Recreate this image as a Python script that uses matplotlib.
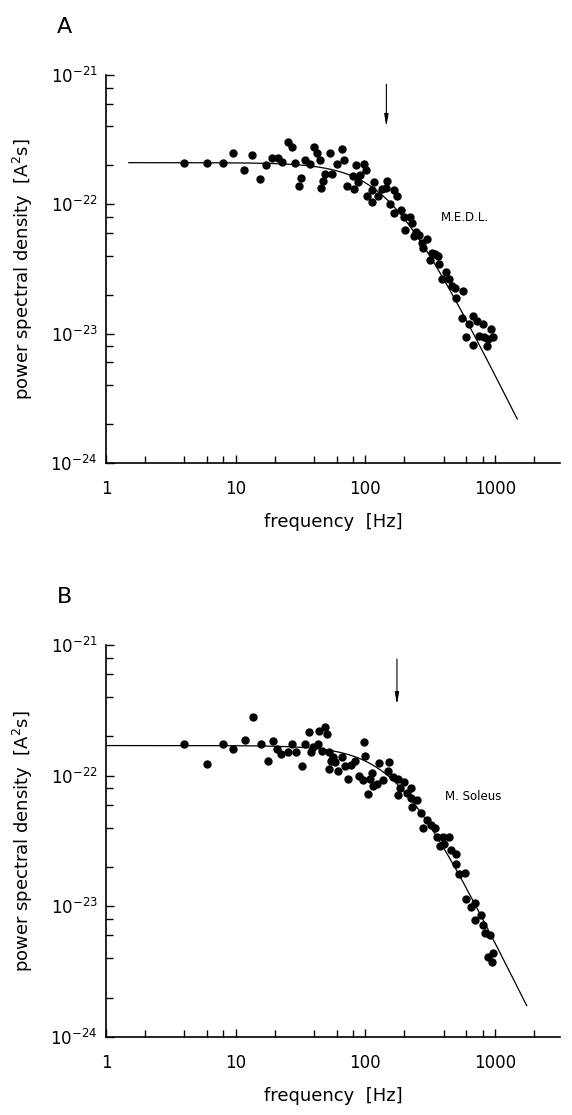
import numpy as np
import matplotlib
matplotlib.use("Agg")
import matplotlib.pyplot as plt
from matplotlib.ticker import FixedLocator, FixedFormatter, NullFormatter

plt.rcParams['font.family'] = ['DejaVu Sans']
plt.rcParams['mathtext.fontset'] = 'dejavusans'

# ---------------- data (psd in units of 1e-22 A^2 s) ----------------
freq_A = [4, 6, 8, 9.6, 11.6, 13.4, 15.4, 17.2, 19.1, 21.3, 22.9, 25.3, 27.4, 28.8,
          30.5, 31.8, 34.5, 37.3, 40, 42.7, 44.3, 45.1, 47.2, 48.6, 53.2, 55.7, 60.9,
          65.8, 68.6, 72.7, 80, 82.3, 84.2, 87.3, 91, 97, 101, 103, 113, 117, 112, 126,
          134, 143, 146, 156, 167, 174, 166, 189, 197, 203, 222, 229, 235, 247, 259,
          273, 278, 298, 316, 328, 341, 360, 367, 389, 418, 438, 465, 487, 501, 564,
          554, 627, 681, 731, 594, 673, 753, 804, 823, 863, 888, 923, 957]
psd_A = [2.1, 2.1, 2.1, 2.5, 1.84, 2.42, 1.58, 2.02, 2.29, 2.29, 2.11, 3.05, 2.79, 2.1,
         1.38, 1.61, 2.21, 2.04, 2.77, 2.51, 2.2, 1.33, 1.51, 1.71, 2.49, 1.72, 2.04,
         2.66, 2.21, 1.39, 1.66, 1.31, 2.02, 1.49, 1.68, 2.06, 1.84, 1.15, 1.05, 1.48,
         1.29, 1.15, 1.32, 1.34, 1.52, 1.0, 1.30, 1.16, 0.86, 0.90, 0.80, 0.63, 0.80,
         0.72, 0.57, 0.61, 0.58, 0.50, 0.46, 0.54, 0.37, 0.42, 0.41, 0.40, 0.345,
         0.267, 0.298, 0.267, 0.233, 0.224, 0.19, 0.213, 0.131, 0.118, 0.138, 0.125,
         0.095, 0.082, 0.096, 0.118, 0.0946, 0.0806, 0.0904, 0.1086, 0.094]

freq_B = [4, 6, 8, 9.5, 11.7, 13.6, 15.8, 17.6, 19.4, 20.9, 22.3, 25.1, 27.3, 29.1,
          32.6, 34.5, 36.6, 37.8, 39.4, 43, 44, 48.7, 50.7, 46.4, 52.6, 52.6, 54.7,
          56.4, 58.7, 61.2, 66.5, 69.3, 74, 77.6, 82.8, 89.4, 97.1, 98.9, 95.3, 105,
          109, 113, 115, 122, 128, 136, 148, 153, 162, 177, 178, 186, 200, 209, 225,
          223, 230, 251, 268, 278, 298, 318, 341, 356, 373, 401, 394, 438, 456, 501,
          501, 526, 585, 598, 650, 702, 776, 702, 813, 838, 916, 970, 888, 953]
psd_B = [1.74, 1.22, 1.75, 1.59, 1.89, 2.81, 1.74, 1.30, 1.84, 1.60, 1.46, 1.51, 1.74,
         1.52, 1.19, 1.74, 2.15, 1.51, 1.65, 1.76, 2.21, 2.37, 2.08, 1.54, 1.51, 1.13,
         1.29, 1.40, 1.28, 1.09, 1.40, 1.19, 0.95, 1.21, 1.29, 1.0, 1.80, 1.41, 0.92,
         0.72, 0.95, 1.04, 0.83, 0.87, 1.25, 0.92, 1.09, 1.28, 0.98, 0.95, 0.71, 0.81,
         0.90, 0.74, 0.81, 0.67, 0.58, 0.65, 0.52, 0.40, 0.46, 0.42, 0.40, 0.34, 0.29,
         0.30, 0.34, 0.34, 0.27, 0.25, 0.21, 0.176, 0.179, 0.114, 0.099, 0.106, 0.086,
         0.0787, 0.072, 0.0626, 0.0604, 0.044, 0.041, 0.0375]

# Lorentzian fit parameters
S0_A, fc_A, fmin_A, fmax_A = 2.1, 152.0, 1.5, 1480.0
S0_B, fc_B, fmin_B, fmax_B = 1.7, 178.0, 1.0, 1750.0
arrow_A = 145.0
arrow_B = 175.0
labels = ["M.E.D.L.", "M. Soleus"]
panel_letters = ["A", "B"]
unit = 1e-22

xticks = [1, 10, 100, 1000]
xticklabels = ["1", "10", "100", "1000"]
yticks = [1e-24, 1e-23, 1e-22, 1e-21]
yticklabels = [r"$10^{-24}$", r"$10^{-23}$", r"$10^{-22}$", r"$10^{-21}$"]

fig = plt.figure(figsize=(5.72, 11.15), dpi=100)
W, H = 572, 1115
boxes = [(106, 75, 560, 463), (106, 645, 560, 1037)]

panels = [
    (freq_A, psd_A, S0_A, fc_A, fmin_A, fmax_A, arrow_A, (8.5, 4.0), (384, 0.79)),
    (freq_B, psd_B, S0_B, fc_B, fmin_B, fmax_B, arrow_B, (7.8, 3.5), (412, 0.69)),
]

for i, (fx, py, S0, fc, fmin, fmax, fa, (a0, a1), (tx, ty)) in enumerate(panels):
    l, t, r, b = boxes[i]
    ax = fig.add_axes([l / W, 1 - b / H, (r - l) / W, (b - t) / H])
    ax.set_xscale('log')
    ax.set_yscale('log')
    ax.set_xlim(1, 10 ** 3.5)
    ax.set_ylim(1e-24, 1e-21)

    ax.plot(np.array(fx), np.array(py) * unit, 'o', color='black', ms=5.0, mec='black')
    ff = np.logspace(np.log10(fmin), np.log10(fmax), 300)
    ax.plot(ff, S0 * unit / (1 + (ff / fc) ** 2), color='black', lw=0.9)

    ax.annotate('', xy=(fa, a1 * unit), xytext=(fa, a0 * unit),
                arrowprops=dict(arrowstyle='-|>,head_width=0.12,head_length=0.7',
                                color='black', lw=0.8, shrinkA=0, shrinkB=0))
    ax.text(tx, ty * unit, labels[i], fontsize=8.5, ha='left', va='center')

    for s in ['top', 'right']:
        ax.spines[s].set_visible(False)
    for s in ['left', 'bottom']:
        ax.spines[s].set_linewidth(1.2)

    ax.xaxis.set_major_locator(FixedLocator(xticks))
    ax.xaxis.set_major_formatter(FixedFormatter(xticklabels))
    xminor = [m * d for d in [1, 10, 100, 1000] for m in [2, 4, 6, 8] if m * d < 3000]
    ax.xaxis.set_minor_locator(FixedLocator(xminor))
    ax.xaxis.set_minor_formatter(NullFormatter())

    ax.yaxis.set_major_locator(FixedLocator(yticks))
    ax.yaxis.set_major_formatter(FixedFormatter(yticklabels))
    yminor = [m * d for d in [1e-24, 1e-23, 1e-22] for m in [2, 4, 6, 8]]
    ax.yaxis.set_minor_locator(FixedLocator(yminor))
    ax.yaxis.set_minor_formatter(NullFormatter())

    ax.tick_params(which='both', direction='in', width=1.0)
    ax.tick_params(which='major', length=6)
    ax.tick_params(which='minor', length=5)
    ax.tick_params(axis='x', which='major', labelsize=12, pad=12)
    ax.tick_params(axis='y', which='major', labelsize=12, pad=6)

    ax.set_xlabel("frequency  [Hz]", fontsize=13, labelpad=11)
    ax.set_ylabel(r"power spectral density  [A$^2$s]", fontsize=13, labelpad=11)

    fig.text(57 / W, 1 - (t - 48) / H, panel_letters[i], fontsize=16,
             ha='left', va='center')

fig.savefig("out.png", dpi=100)
